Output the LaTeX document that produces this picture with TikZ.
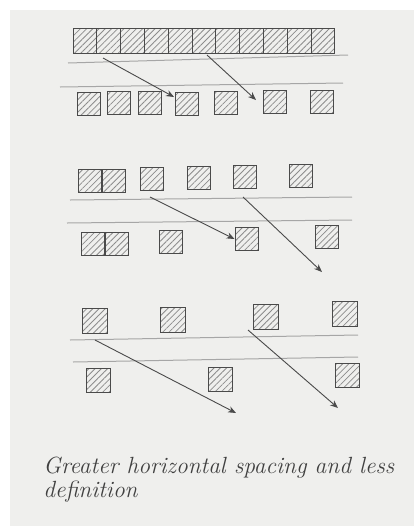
\documentclass[tikz,border=0pt]{standalone}
\usepackage{tikz}
\usetikzlibrary{arrows.meta, patterns.meta, calc, positioning}

\definecolor{paper}{HTML}{EFEFED}
\definecolor{ink}{HTML}{4A4A4A}

\begin{document}
\begin{tikzpicture}[
    x=0.5pt, y=-0.5pt,
    >={Stealth[length=4pt, width=3.2pt]},
    cell/.style={draw=ink, line width=0.5pt, minimum width=11.5pt, minimum height=11.5pt, inner sep=0pt,
        pattern={Lines[angle=45, distance=2.2pt, line width=0.4pt]}, pattern color=gray!90},
    bigcell/.style={cell, minimum width=12pt, minimum height=12.5pt},
    rule/.style={gray!70, line width=0.5pt},
    arrow/.style={->, ink, line width=0.45pt},
    caption/.style={anchor=north west, align=left, inner sep=0pt, text=black!75,
        font=\fontsize{11.7}{11.6}\selectfont\itshape}
]

% Page
\fill[white] (0,0) rectangle (414,526);
\fill[paper] (10,10) rectangle (414,526);

% Block 1 - continuous bar and spaced row
\foreach \i in {1,...,11}
    \node[bigcell, minimum width=11.9pt] (bar\i) at ({73+23.8*(\i-0.5)}, 40.5) {};
\foreach \x/\y [count=\i] in {88.5/103.5, 118.5/103, 150/103, 186.5/104, 226/103, 275/102, 321.5/102}
    \node[cell] (ra\i) at (\x,\y) {};
\draw[rule] (68,63) -- (348,55);
\draw[rule] (60,87) -- (343,83);

% Block 2
\node[cell] (ta1) at (90,181) {};
\node[cell, right=0pt of ta1] (ta2) {};
\foreach \x/\y [count=\i from 3] in {151.5/179, 199/178, 245/177, 300.5/176}
    \node[cell] (ta\i) at (\x,\y) {};
\node[cell] (rb1) at (92.5,243.5) {};
\node[cell, right=0pt of rb1] (rb2) {};
\foreach \x/\y [count=\i from 3] in {170.5/242, 246.5/239, 326.5/236.5}
    \node[cell] (rb\i) at (\x,\y) {};
\draw[rule] (70,200) -- (352,197);
\draw[rule] (67,223) -- (352,220);

% Block 3
\foreach \x/\y [count=\i] in {94.5/320.5, 172.5/319.5, 265.5/316.5, 344.5/314}
    \node[cell, minimum size=12.5pt] (tc\i) at (\x,\y) {};
\foreach \x/\y [count=\i] in {98.5/380.5, 220.5/379, 347.5/375}
    \node[cell, minimum size=12pt] (rc\i) at (\x,\y) {};
\draw[rule] (70,340) -- (358,335);
\draw[rule] (73,362) -- (358,357);

% Arrow ends
\coordinate (s1) at (103,58);   \coordinate (e1) at (174,97);
\coordinate (s2) at (207,55);   \coordinate (e2) at (256,100);
\coordinate (s3) at (150,197);
\coordinate (s4) at (243,197);  \coordinate (e4) at (322,272);
\coordinate (s5) at (95,340);   \coordinate (e5) at (236,413);
\coordinate (s6) at (248,330);  \coordinate (e6) at (338,408);

% Arrows
\draw[arrow] (s1) -- (e1);
\draw[arrow] (s2) -- (e2);
\draw[arrow] (s3) -- (rb4.west);
\draw[arrow] (s4) -- (e4);
\draw[arrow] (s5) -- (e5);
\draw[arrow] (s6) -- (e6);

% Caption
\node[caption] (cap) at (43,457) {Greater horizontal spacing and less\\definition};

\end{tikzpicture}
\end{document}
